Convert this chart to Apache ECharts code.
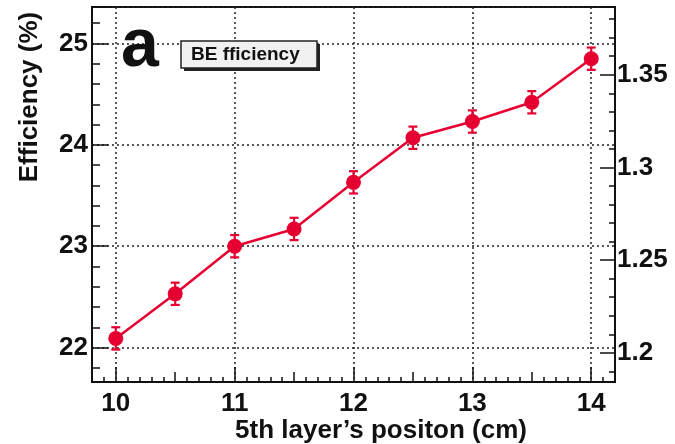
<!DOCTYPE html>
<html>
<head>
<meta charset="utf-8">
<script src="https://cdn.jsdelivr.net/npm/echarts@6/dist/echarts.min.js"></script>
<style>
  html, body { margin: 0; padding: 0; background: #fff; }
  #chart { width: 675px; height: 444px; }
</style>
</head>
<body>
<div id="chart"></div>
<script>
// 5th layer position scan
var positions = [10, 10.5, 11, 11.5, 12, 12.5, 13, 13.5, 14];
var efficiency = [22.09, 22.53, 23.0, 23.17, 23.63, 24.07, 24.23, 24.42, 24.85];
var errors = [0.11, 0.11, 0.11, 0.11, 0.11, 0.11, 0.11, 0.11, 0.11];

var xRange = [9.8, 14.2];
var yRange = [21.66, 25.36];
var rightScale = 18.29; // right axis = efficiency / rightScale

var red = '#e60032';
var font = "'Liberation Sans', Arial, Helvetica, sans-serif";
var ink = '#111';

var points = positions.map(function (x, i) { return [x, efficiency[i]]; });
var errPoints = positions.map(function (x, i) { return [x, efficiency[i], errors[i]]; });

var labelStyle = { fontFamily: font, fontWeight: 'bold', fontSize: 26, color: ink };
var grid_line = { show: true, lineStyle: { color: '#222', type: [2, 3], width: 1.5 } };

var chart = echarts.init(document.getElementById('chart'));

var renderErr = function (params, api) {
    var x = api.value(0), y = api.value(1), e = api.value(2);
    var top = api.coord([x, y + e]);
    var bot = api.coord([x, y - e]);
    var w = 4.5;
    var st = { stroke: red, lineWidth: 2.2 };
    return {
        type: 'group',
        children: [
            { type: 'line', shape: { x1: top[0], y1: top[1], x2: bot[0], y2: bot[1] }, style: st },
            { type: 'line', shape: { x1: top[0] - w, y1: top[1], x2: top[0] + w, y2: top[1] }, style: st },
            { type: 'line', shape: { x1: bot[0] - w, y1: bot[1], x2: bot[0] + w, y2: bot[1] }, style: st }
        ]
    };
};

chart.setOption({
    animation: false,
    grid: { left: 92, top: 7, right: 60, bottom: 62, show: true, borderColor: '#111', borderWidth: 2, backgroundColor: '#fff' },
    xAxis: [
        {
            type: 'value', min: xRange[0], max: xRange[1], splitNumber: 4,
            axisLine: { lineStyle: { color: '#111', width: 2 } },
            axisTick: { inside: true, length: 15, lineStyle: { color: '#111', width: 1.5 } },
            minorTick: { show: true, splitNumber: 10, length: 5, lineStyle: { color: '#111', width: 1.5 } },
            axisLabel: Object.assign({ margin: 9, showMinLabel: false, showMaxLabel: false }, labelStyle),
            splitLine: grid_line
        },
        {
            // half-unit ticks
            type: 'value', min: xRange[0], max: xRange[1], splitNumber: 9, position: 'bottom',
            axisLine: { show: false },
            axisTick: { inside: true, length: 10, lineStyle: { color: '#111', width: 1.5 } },
            axisLabel: { show: false },
            splitLine: { show: false }
        }
    ],
    yAxis: [
        {
            type: 'value', min: yRange[0], max: yRange[1], splitNumber: 4,
            axisLine: { show: true, lineStyle: { color: '#111', width: 2 } },
            axisTick: { show: true, inside: true, length: 16, lineStyle: { color: '#111', width: 1.5 } },
            minorTick: { show: true, splitNumber: 5, length: 8, lineStyle: { color: '#111', width: 1.5 } },
            axisLabel: Object.assign({ margin: 4, showMinLabel: false, showMaxLabel: false }, labelStyle),
            splitLine: grid_line
        },
        {
            type: 'value', position: 'right',
            min: yRange[0] / rightScale, max: yRange[1] / rightScale, splitNumber: 4,
            axisLine: { show: true, lineStyle: { color: '#111', width: 2 } },
            axisTick: { show: true, inside: true, length: 15, lineStyle: { color: '#111', width: 1.5 } },
            minorTick: { show: true, splitNumber: 5, length: 6, lineStyle: { color: '#111', width: 1.5 } },
            axisLabel: Object.assign({ margin: 2, showMinLabel: false, showMaxLabel: false }, labelStyle),
            splitLine: { show: false }
        }
    ],
    graphic: [
        {
            type: 'text', x: 30, y: 97, rotation: Math.PI / 2,
            style: { text: 'Efficiency (%)', fontFamily: font, fontWeight: 'bold', fontSize: 26, fill: ink, align: 'center', verticalAlign: 'middle' }
        },
        {
            type: 'text', x: 381, y: 431,
            style: { text: '5th layer\u2019s positon (cm)', fontFamily: font, fontWeight: 'bold', fontSize: 26, fill: ink, align: 'center', verticalAlign: 'middle' }
        },
        {
            type: 'text', x: 121, y: 47, z: 10,
            style: { text: 'a', fontFamily: font, fontWeight: 'bold', fontSize: 68, fill: ink, align: 'left', verticalAlign: 'middle' }
        },
        { type: 'rect', shape: { x: 184, y: 44, width: 136, height: 27 }, style: { fill: '#222' }, z: 10 },
        { type: 'rect', shape: { x: 181, y: 41, width: 136, height: 27 }, style: { fill: '#f1f1f1', stroke: '#222', lineWidth: 1.5 }, z: 11 },
        {
            type: 'text', x: 191, y: 55, z: 12,
            style: { text: 'BE fficiency', fontFamily: font, fontWeight: 'bold', fontSize: 19, fill: ink, align: 'left', verticalAlign: 'middle' }
        }
    ],
    series: [
        {
            type: 'custom', renderItem: renderErr, data: errPoints,
            encode: { x: 0, y: 1 }, z: 3, silent: true
        },
        {
            type: 'line', data: points, symbol: 'circle', symbolSize: 15,
            itemStyle: { color: red }, lineStyle: { color: red, width: 2.5 }, z: 4
        }
    ]
});
</script>
</body>
</html>
